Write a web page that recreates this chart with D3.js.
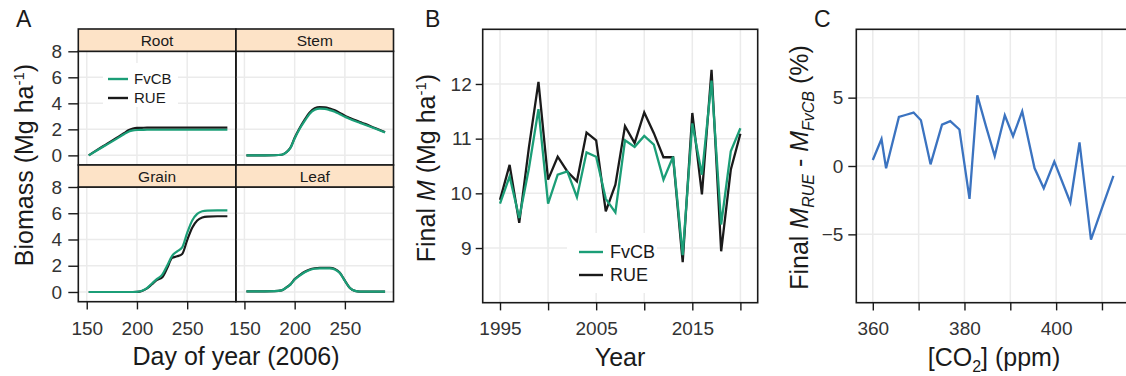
<!DOCTYPE html>
<meta charset="utf-8">
<style>
body { margin:0; background:#fff; }
svg text { font-family: "Liberation Sans", Arial, sans-serif; }
.grid line { stroke:#ebebeb; stroke-width:1.5; }
.frame { fill:none; stroke:#1a1a1a; stroke-width:1.6; }
.strip { fill:#fde3c7; stroke:#1a1a1a; stroke-width:1.6; }
</style>
<body>
<div id="chart"></div>
<script src="https://d3js.org/d3.v7.min.js"></script>
<script>
// ---- data: panel A (biomass by organ, day of year 2006)
var days = [152,160,170,180,187,192,196,200,205,210,215,220,225,230,235,240,245,250,255,260,265,270,280,290];
var rootFvcb = [0,0.37,0.83,1.29,1.62,1.84,1.92,1.95,1.96,1.97,1.97,1.97,1.97,1.97,1.97,1.97,1.97,1.97,1.97,1.97,1.97,1.97,1.97,1.97];
var rootRue  = [0,0.40,0.88,1.36,1.70,1.95,2.06,2.11,2.12,2.13,2.13,2.13,2.13,2.13,2.13,2.13,2.13,2.13,2.13,2.13,2.13,2.13,2.13,2.13];
var stemFvcb = [0,0,0,0.01,0.05,0.25,0.6,1.3,2.05,2.65,3.2,3.5,3.6,3.58,3.48,3.36,3.16,2.96,2.8,2.64,2.5,2.36,2.06,1.76];
var stemRue  = [0,0,0,0.01,0.05,0.26,0.62,1.35,2.1,2.75,3.3,3.62,3.72,3.7,3.6,3.46,3.26,3.05,2.88,2.71,2.56,2.42,2.1,1.79];
var grainFvcb = [0,0,0,0,0,0,0,0.01,0.1,0.3,0.65,1.0,1.3,2.0,2.75,3.1,3.4,4.5,5.45,5.95,6.15,6.2,6.22,6.22];
var grainRue  = [0,0,0,0,0,0,0,0.01,0.08,0.28,0.6,0.92,1.1,1.8,2.6,2.72,2.9,3.95,4.9,5.45,5.68,5.75,5.77,5.77];
var leafFvcb = [0.05,0.05,0.05,0.06,0.12,0.35,0.58,0.95,1.25,1.5,1.68,1.77,1.8,1.8,1.8,1.72,1.45,0.85,0.3,0.08,0.03,0.03,0.03,0.03];
var leafRue  = [0.05,0.05,0.05,0.06,0.12,0.36,0.6,0.98,1.28,1.54,1.72,1.81,1.84,1.84,1.83,1.75,1.47,0.86,0.3,0.08,0.03,0.03,0.03,0.03];
var organs = ["Root", "Stem", "Grain", "Leaf"];
var dayTicks = [150, 200, 250];
var biomassTicks = [0, 2, 4, 6, 8];

// ---- data: panel B (final biomass by year)
var years = [1995,1996,1997,1998,1999,2000,2001,2002,2003,2004,2005,2006,2007,2008,2009,2010,2011,2012,2013,2014,2015,2016,2017,2018,2019,2020];
var finalFvcb = [9.81,10.31,9.55,10.45,11.54,9.81,10.34,10.40,9.93,10.75,10.67,9.90,9.65,10.97,10.85,11.05,10.89,10.25,10.67,8.87,11.28,10.34,12.06,9.43,10.77,11.19];
var finalRue  = [9.88,10.52,9.46,10.83,12.04,10.25,10.67,10.40,10.22,11.11,10.97,9.67,10.16,11.23,10.92,11.48,11.10,10.66,10.66,8.74,11.47,9.98,12.26,8.94,10.43,11.09];
var yearTicks = [1995,2000,2005,2010,2015,2020];
var yearLabels = [1995,2005,2015];
var finalTicks = [9, 10, 11, 12];

// ---- data: panel C (relative difference vs CO2)
var co2 = [360.0,361.9,362.9,365.7,367.3,368.9,370.5,372.6,375.1,376.9,378.9,381.1,382.8,384.7,386.6,388.8,390.6,392.6,395.3,397.3,399.6,403.1,405.1,407.6,410.0,412.5];
var diffPct = [0.44,1.97,-0.17,3.59,3.75,3.91,3.35,0.12,3.03,3.28,2.67,-2.4,5.17,2.9,0.73,3.71,2.18,4.0,-0.17,-1.63,0.32,-2.67,1.72,-5.39,-3.08,-0.73];
var co2Ticks = [360,370,380,390,400,410];
var co2Labels = [360,380,400];
var diffTicks = [-5, 0, 5];

var green = "#1b9e77", black = "#1a1a1a", blue = "#3b73c0";
var fontFam = "Liberation Sans, Arial, sans-serif";

var svg = d3.select("#chart").append("svg")
    .attr("width", 1126)
    .attr("height", 376);

function gridLines(g, vals, fn) {
  g.append("g").attr("class", "grid")
    .selectAll("line").data(vals).enter().append("line")
    .each(fn);
}

// style an axis group drawn by d3
function styleAxis(a) {
  a.attr("font-family", fontFam).attr("font-size", 19);
  a.select(".domain").remove();
  a.selectAll(".tick line").attr("stroke", "#1a1a1a").attr("stroke-width", 1.4);
  a.selectAll(".tick text").attr("fill", "#333");
}

// =========== Panel A ===========
var colX = [78.3, 236], colW = 157.5;
var stripTop = [29, 165], panelTop = [51.3, 187], panelBottom = [165, 301.7];
var seriesA = {
  Root: [rootFvcb, rootRue], Stem: [stemFvcb, stemRue],
  Grain: [grainFvcb, grainRue], Leaf: [leafFvcb, leafRue]
};

organs.forEach(function(name, i) {
  var c = i % 2, r = Math.floor(i / 2);
  var x = d3.scaleLinear().domain([141.6, 298.4]).range([colX[c], colX[c] + colW]);
  var y = d3.scaleLinear().domain([-0.74, 8]).range([panelBottom[r], panelTop[r]]);
  var g = svg.append("g");

  gridLines(g, dayTicks, function(d) {
    d3.select(this).attr("x1", x(d)).attr("x2", x(d)).attr("y1", panelTop[r]).attr("y2", panelBottom[r]);
  });
  gridLines(g, biomassTicks, function(d) {
    d3.select(this).attr("x1", colX[c]).attr("x2", colX[c] + colW).attr("y1", y(d)).attr("y2", y(d));
  });

  var line = d3.line()
    .x(function(d, k) { return x(days[k]); })
    .y(function(d) { return y(d); })
    .curve(d3.curveMonotoneX);

  g.append("path").attr("d", line(seriesA[name][1]))
    .attr("fill", "none").attr("stroke", black).attr("stroke-width", 2.2);
  g.append("path").attr("d", line(seriesA[name][0]))
    .attr("fill", "none").attr("stroke", green).attr("stroke-width", 2.2);

  g.append("rect").attr("class", "frame")
    .attr("x", colX[c]).attr("y", panelTop[r])
    .attr("width", colW).attr("height", panelBottom[r] - panelTop[r]);
  g.append("rect").attr("class", "strip")
    .attr("x", colX[c]).attr("y", stripTop[r])
    .attr("width", colW).attr("height", panelTop[r] - stripTop[r]);
  g.append("text")
    .attr("x", colX[c] + colW / 2).attr("y", (stripTop[r] + panelTop[r]) / 2)
    .attr("dy", "0.36em").attr("text-anchor", "middle")
    .attr("font-size", 15.5).attr("fill", "#1a1a1a")
    .text(name);

  if (c == 0) {
    g.append("g").attr("transform", "translate(" + colX[c] + ",0)")
      .call(d3.axisLeft(y).tickValues(biomassTicks).tickFormat(d3.format("d")).tickSize(10).tickPadding(6.3))
      .call(styleAxis);
  }
  if (r == 1) {
    g.append("g").attr("transform", "translate(0," + panelBottom[r] + ")")
      .call(d3.axisBottom(x).tickValues(dayTicks).tickFormat(d3.format("d")).tickSize(7.7).tickPadding(12))
      .call(styleAxis);
  }
});

// legend A
svg.append("rect").attr("x", 103).attr("y", 63).attr("width", 75).attr("height", 44).attr("fill", "#fff");
[["FvCB", green, 79], ["RUE", black, 98]].forEach(function(l) {
  svg.append("line").attr("x1", 108).attr("x2", 128).attr("y1", l[2]).attr("y2", l[2])
    .attr("stroke", l[1]).attr("stroke-width", 2.4);
  svg.append("text").attr("x", 134).attr("y", l[2]).attr("dy", "0.36em")
    .attr("font-size", 15).attr("fill", "#1a1a1a").text(l[0]);
});

function title(x, y, rot) {
  return svg.append("text")
    .attr("font-size", 25).attr("fill", "#1a1a1a").attr("text-anchor", "middle")
    .attr("transform", "translate(" + x + "," + y + ")" + (rot ? " rotate(-90)" : ""));
}
function letter(x, t) {
  svg.append("text").attr("x", x).attr("y", 27).attr("font-size", 23).attr("fill", "#1a1a1a").text(t);
}

letter(16, "A");
title(236, 365).text("Day of year (2006)");
var tA = title(33, 165, true);
tA.append("tspan").text("Biomass (Mg ha");
tA.append("tspan").attr("font-size", 15).attr("dy", -9).text("-1");
tA.append("tspan").attr("dy", 9).text(")");

// =========== Panel B ===========
var bL = 482.7, bR = 757.7, bT = 29.3, bB = 302.7;
var xB = d3.scaleLinear().domain([1993.2, 2021.8]).range([bL, bR]);
var yB = d3.scaleLinear().domain([8, 13]).range([bB, bT]);
var gB = svg.append("g");

gridLines(gB, yearTicks, function(d) {
  d3.select(this).attr("x1", xB(d)).attr("x2", xB(d)).attr("y1", bT).attr("y2", bB);
});
gridLines(gB, finalTicks, function(d) {
  d3.select(this).attr("x1", bL).attr("x2", bR).attr("y1", yB(d)).attr("y2", yB(d));
});

var lineB = d3.line()
  .x(function(d, k) { return xB(years[k]); })
  .y(function(d) { return yB(d); });
gB.append("path").attr("d", lineB(finalRue))
  .attr("fill", "none").attr("stroke", black).attr("stroke-width", 2.3);
gB.append("path").attr("d", lineB(finalFvcb))
  .attr("fill", "none").attr("stroke", green).attr("stroke-width", 2.3);

gB.append("rect").attr("x", 567).attr("y", 233).attr("width", 90).attr("height", 60).attr("fill", "#fff");
[["FvCB", green, 252], ["RUE", black, 275]].forEach(function(l) {
  gB.append("line").attr("x1", 579).attr("x2", 603).attr("y1", l[2]).attr("y2", l[2])
    .attr("stroke", l[1]).attr("stroke-width", 2.4);
  gB.append("text").attr("x", 610).attr("y", l[2]).attr("dy", "0.36em")
    .attr("font-size", 18).attr("fill", "#1a1a1a").text(l[0]);
});

gB.append("rect").attr("class", "frame").attr("x", bL).attr("y", bT)
  .attr("width", bR - bL).attr("height", bB - bT);
gB.append("g").attr("transform", "translate(" + bL + ",0)")
  .call(d3.axisLeft(yB).tickValues(finalTicks).tickFormat(d3.format("d")).tickSize(7).tickPadding(4))
  .call(styleAxis);
gB.append("g").attr("transform", "translate(0," + bB + ")")
  .call(d3.axisBottom(xB).tickValues(yearTicks).tickSize(7.7).tickPadding(11)
    .tickFormat(function(d) { return yearLabels.indexOf(d) >= 0 ? d : ""; }))
  .call(styleAxis);

letter(425, "B");
title(620, 366).text("Year");
var tB = title(435, 168, true);
tB.append("tspan").text("Final ");
tB.append("tspan").attr("font-style", "italic").text("M");
tB.append("tspan").text(" (Mg ha");
tB.append("tspan").attr("font-size", 15).attr("dy", -9).text("-1");
tB.append("tspan").attr("dy", 9).text(")");

// =========== Panel C ===========
var cL = 856.3, cR = 1131.3, cT = 29.3, cB = 302.7;
var xC = d3.scaleLinear().domain([356.4, 416.4]).range([cL, cR]);
var yC = d3.scaleLinear().domain([-10, 10]).range([cB, cT]);
var gC = svg.append("g");

gridLines(gC, co2Ticks, function(d) {
  d3.select(this).attr("x1", xC(d)).attr("x2", xC(d)).attr("y1", cT).attr("y2", cB);
});
gridLines(gC, diffTicks, function(d) {
  d3.select(this).attr("x1", cL).attr("x2", cR).attr("y1", yC(d)).attr("y2", yC(d));
});

var lineC = d3.line()
  .x(function(d, k) { return xC(co2[k]); })
  .y(function(d) { return yC(d); });
gC.append("path").attr("d", lineC(diffPct))
  .attr("fill", "none").attr("stroke", blue).attr("stroke-width", 2.3);

gC.append("rect").attr("class", "frame").attr("x", cL).attr("y", cT)
  .attr("width", cR - cL).attr("height", cB - cT);
gC.append("g").attr("transform", "translate(" + cL + ",0)")
  .call(d3.axisLeft(yC).tickValues(diffTicks).tickFormat(d3.format("d")).tickSize(8).tickPadding(5))
  .call(styleAxis);
gC.append("g").attr("transform", "translate(0," + cB + ")")
  .call(d3.axisBottom(xC).tickValues(co2Ticks).tickSize(7.7).tickPadding(11)
    .tickFormat(function(d) { return co2Labels.indexOf(d) >= 0 ? d : ""; }))
  .call(styleAxis);

letter(814, "C");
var xtC = title(994, 366);
xtC.append("tspan").text("[CO");
xtC.append("tspan").attr("font-size", 16).attr("dy", 6).text("2");
xtC.append("tspan").attr("dy", -6).text("] (ppm)");

var tC = title(808, 167.5, true);
tC.append("tspan").text("Final ");
tC.append("tspan").attr("font-style", "italic").text("M");
tC.append("tspan").attr("font-style", "italic").attr("font-size", 16).attr("dy", 6).text("RUE");
tC.append("tspan").attr("dy", -6).text(" - ");
tC.append("tspan").attr("font-style", "italic").text("M");
tC.append("tspan").attr("font-style", "italic").attr("font-size", 16).attr("dy", 6).text("FvCB");
tC.append("tspan").attr("dy", -6).text(" (%)");
</script>
</body>
</html>
